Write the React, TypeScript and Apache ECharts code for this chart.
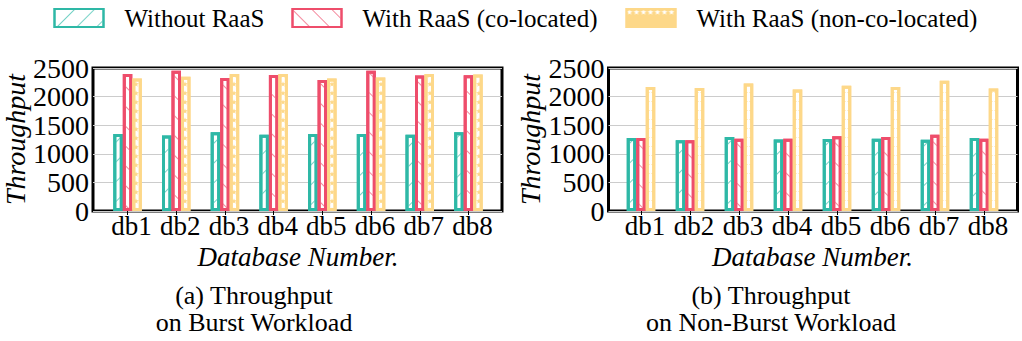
import React, { useEffect, useRef } from 'react';
import * as echarts from 'echarts';

const categories = ['db1', 'db2', 'db3', 'db4', 'db5', 'db6', 'db7', 'db8'];
const seriesNames = ['Without RaaS', 'With RaaS (co-located)', 'With RaaS (non-co-located)'];

// (a) Burst workload
const burstWithout = [1348, 1318, 1376, 1335, 1345, 1348, 1335, 1376];
const burstColocated = [2394, 2450, 2324, 2377, 2290, 2450, 2370, 2375];
const burstNonColocated = [2318, 2347, 2394, 2394, 2315, 2335, 2395, 2385];

// (b) Non-burst workload
const nonBurstWithout = [1275, 1235, 1293, 1252, 1258, 1265, 1247, 1275];
const nonBurstColocated = [1275, 1235, 1265, 1265, 1305, 1293, 1335, 1265];
const nonBurstNonColocated = [2170, 2150, 2230, 2125, 2190, 2170, 2275, 2140];

const yMin = 0;
const yMax = 2500;
const yInterval = 500;

const TEAL = '#2eb8a6';
const RED = '#ee4d6b';
const YELLOW = '#fdd889';
const TEAL_LIGHT = '#78d3c7';
const RED_LIGHT = '#f4899d';
const FONT = 'Liberation Serif';

const STAR = 'path://M50,0 L61,35 L98,35 L68,57 L79,91 L50,70 L21,91 L32,57 L2,35 L39,35 Z';

const decals = [
  { symbol: 'rect', symbolSize: 1, dashArrayX: [1, 0], dashArrayY: [1, 13], rotation: -Math.PI / 4, color: TEAL_LIGHT },
  { symbol: 'rect', symbolSize: 1, dashArrayX: [1, 0], dashArrayY: [1, 13], rotation: Math.PI / 4, color: RED_LIGHT },
  { symbol: STAR, symbolSize: 1, dashArrayX: [6, 1], dashArrayY: [6, 3], color: YELLOW },
];
const colors = [TEAL, RED, YELLOW];

function makeBar(i: number, data: number[], axis: number) {
  return {
    type: 'bar',
    name: seriesNames[i],
    data,
    xAxisIndex: axis,
    yAxisIndex: axis,
    barWidth: 9.5,
    barGap: '0%',
    itemStyle: { color: '#ffffff', borderColor: colors[i], borderWidth: 3, decal: decals[i] },
    emphasis: { disabled: true },
  };
}

function frameGrid(left: number) {
  return {
    left, top: 68, width: 409, height: 143,
    show: true, borderColor: '#000', borderWidth: 3, backgroundColor: 'transparent',
    outerBoundsMode: 'none', containLabel: false,
  };
}
function innerGrid(left: number, width: number) {
  return { left, top: 68, width, height: 143, outerBoundsMode: 'none', containLabel: false };
}

function frameY(grid: number) {
  return {
    type: 'value', gridIndex: grid, min: yMin, max: yMax, interval: yInterval,
    axisLine: { show: false }, axisTick: { show: false },
    axisLabel: { fontFamily: FONT, fontSize: 28, color: '#000', margin: 4, formatter: (v: number) => String(v) },
    splitLine: { show: true, lineStyle: { color: '#cccccc', width: 1 } },
    name: 'Throughput', nameLocation: 'middle', nameGap: 58,
    nameTextStyle: { fontFamily: FONT, fontSize: 28, fontStyle: 'italic', color: '#000' },
  };
}
function innerY(grid: number) {
  return { type: 'value', gridIndex: grid, min: yMin, max: yMax, interval: yInterval, show: false, splitLine: { show: false } };
}
function frameX(grid: number) {
  return { type: 'value', gridIndex: grid, min: 0, max: 1, show: false, splitLine: { show: false } };
}
function innerX(grid: number) {
  return {
    type: 'category', gridIndex: grid, data: categories,
    axisLine: { show: false },
    axisTick: { show: true, alignWithLabel: true, length: 4, lineStyle: { color: '#000', width: 1 } },
    axisLabel: { fontFamily: FONT, fontSize: 27, color: '#000', margin: 1, padding: [0, 0, 0, 8], interval: 0 },
    splitLine: { show: false },
    name: 'Database Number.', nameLocation: 'middle', nameGap: 32,
    nameTextStyle: { fontFamily: FONT, fontSize: 27, fontStyle: 'italic', color: '#000' },
  };
}

function legendFor(i: number, left: number, itemStyle?: object) {
  return {
    data: [seriesNames[i]], left, top: 5.5, padding: 0, icon: 'rect',
    itemWidth: 49, itemHeight: 18, selectedMode: false,
    ...(itemStyle ? { itemStyle } : {}),
    textStyle: { fontFamily: FONT, fontSize: 25, color: '#000', padding: [0, 0, 0, 16] },
  };
}

function caption(x: number, y: number, text: string) {
  return {
    type: 'text', x, y,
    style: { text, fontFamily: FONT, fontSize: 26, fill: '#000', align: 'center', verticalAlign: 'middle' },
  };
}

export default function App() {
  const ref = useRef<HTMLDivElement>(null);
  useEffect(() => {
    if (!ref.current) return;
    const chart = echarts.init(ref.current, null, { renderer: 'svg' });
    chart.setOption({
      animation: false,
      backgroundColor: '#fff',
      textStyle: { fontFamily: FONT },
      legend: [
        legendFor(0, 53.5),
        legendFor(1, 291.5),
        legendFor(2, 625.5, {
          color: YELLOW,
          decal: { symbol: STAR, symbolSize: 1, dashArrayX: [6, 1], dashArrayY: [6, 12], color: '#ffffff' },
        }),
      ],
      grid: [frameGrid(93), innerGrid(103.2, 389.6), frameGrid(608.5), innerGrid(616.5, 392)],
      xAxis: [frameX(0), innerX(1), frameX(2), innerX(3)],
      yAxis: [frameY(0), innerY(1), frameY(2), innerY(3)],
      series: [
        makeBar(0, burstWithout, 1),
        makeBar(1, burstColocated, 1),
        makeBar(2, burstNonColocated, 1),
        makeBar(0, nonBurstWithout, 3),
        makeBar(1, nonBurstColocated, 3),
        makeBar(2, nonBurstNonColocated, 3),
      ],
      graphic: [
        caption(254, 295, '(a) Throughput'),
        caption(254, 322, 'on Burst Workload'),
        caption(771, 295, '(b) Throughput'),
        caption(771, 322, 'on Non-Burst Workload'),
      ],
    });
    return () => chart.dispose();
  }, []);
  return <div ref={ref} style={{ position: 'absolute', left: 0, top: 0, width: 1022, height: 341 }} />;
}
